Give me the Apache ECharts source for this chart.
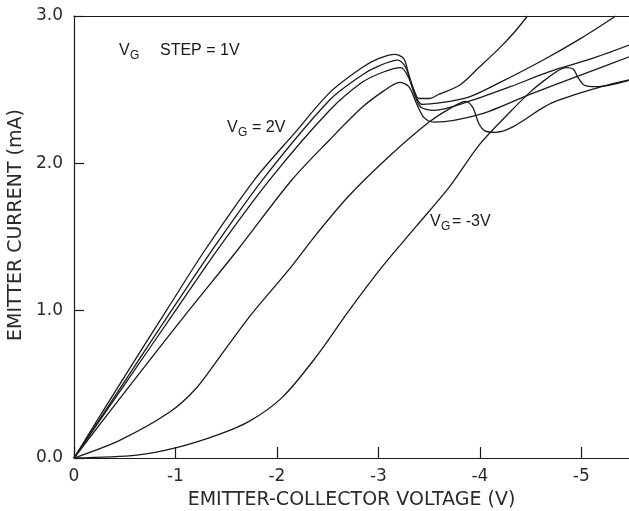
<!DOCTYPE html>
<html>
<head>
<meta charset="utf-8">
<script src="https://cdn.jsdelivr.net/npm/echarts@6/dist/echarts.min.js"></script>
<style>
html,body{margin:0;padding:0;background:#fff;}
#c{width:629px;height:511px;}
</style>
</head>
<body>
<div id="c"></div>
<script>
// Emitter-collector voltage (V) vs emitter current (mA), one curve per gate voltage
const seriesNames = ['VG = 2V', 'VG = 1V', 'VG = 0V', 'VG = -1V', 'VG = -2V', 'VG = -3V'];
const xTicks = [0, -1, -2, -3, -4, -5];
const yTicks = [0, 1, 2, 3];

const vgP2 = [[0,0],[-0.45,0.5],[-0.91,1.0],[-1.29,1.41],[-1.78,1.89],[-2.18,2.21],[-2.52,2.48],[-2.84,2.65],[-3.0,2.71],[-3.16,2.74],[-3.25,2.71],[-3.30,2.60],[-3.35,2.50],[-3.40,2.44],[-3.50,2.44],[-3.60,2.47],[-3.80,2.53],[-3.99,2.65],[-4.19,2.78],[-4.34,2.89],[-4.47,3.0]];
const vgP1 = [[0,0],[-0.48,0.5],[-0.96,1.0],[-1.36,1.41],[-1.86,1.89],[-2.52,2.43],[-2.84,2.60],[-3.0,2.66],[-3.19,2.70],[-3.27,2.65],[-3.32,2.55],[-3.37,2.45],[-3.43,2.40],[-3.6,2.41],[-3.89,2.45],[-4.2,2.55],[-4.62,2.70],[-5.0,2.85],[-5.34,3.0]];
const vg0 = [[0,0],[-0.5,0.5],[-1.0,1.0],[-1.41,1.41],[-1.93,1.89],[-2.52,2.36],[-2.84,2.55],[-3.05,2.62],[-3.22,2.65],[-3.30,2.58],[-3.36,2.46],[-3.42,2.38],[-3.55,2.36],[-3.89,2.42],[-4.3,2.52],[-4.68,2.62],[-5.1,2.71],[-5.5,2.81]];
const vgM1 = [[0,0],[-0.56,0.5],[-1.13,1.0],[-1.61,1.41],[-2.15,1.89],[-2.52,2.16],[-2.84,2.38],[-3.05,2.49],[-3.21,2.55],[-3.30,2.52],[-3.38,2.40],[-3.45,2.31],[-3.55,2.28],[-3.99,2.33],[-4.5,2.47],[-5.0,2.60],[-5.5,2.73]];
const vgM2 = [[0,0],[-0.45,0.12],[-0.94,0.31],[-1.2,0.47],[-1.43,0.68],[-1.73,0.96],[-2.12,1.28],[-2.39,1.52],[-2.71,1.78],[-3.11,2.05],[-3.5,2.28],[-3.7,2.37],[-3.86,2.42],[-3.93,2.38],[-3.99,2.27],[-4.05,2.22],[-4.15,2.21],[-4.71,2.41],[-5.2,2.52],[-5.5,2.57]];
const vgM3 = [[0,0],[-0.62,0.02],[-1.01,0.07],[-1.43,0.16],[-1.73,0.25],[-2.05,0.41],[-2.39,0.69],[-2.71,1.0],[-3.04,1.30],[-3.37,1.57],[-3.70,1.84],[-4.0,2.13],[-4.3,2.35],[-4.49,2.48],[-4.65,2.57],[-4.85,2.65],[-4.92,2.64],[-4.97,2.58],[-5.03,2.53],[-5.15,2.52],[-5.5,2.57]];

const allData = [vgP2, vgP1, vg0, vgM1, vgM2, vgM3];

const FONT = 'DejaVu Sans';
const AFONT = 'Liberation Sans';
const INK = '#1a1a1a';
const TXT = '#2a2a2a';
const XMIN = -5.47;

const chart = echarts.init(document.getElementById('c'), null, {renderer: 'canvas'});

function subText(x, y, rest, restX) {
  return [
    {type: 'text', left: x, top: y, style: {text: 'V', font: '16px ' + AFONT, fill: INK}},
    {type: 'text', left: x + 11, top: y + 7, style: {text: 'G', font: '12px ' + AFONT, fill: INK}},
    {type: 'text', left: restX, top: y, style: {text: rest, font: '16px ' + AFONT, fill: INK}}
  ];
}

const option = {
  backgroundColor: '#fff',
  animation: false,
  grid: {left: 74, top: 16, right: 0, height: 442, show: false, containLabel: false, outerBoundsMode: 'none'},
  xAxis: [{
    type: 'value', min: XMIN, max: 0, inverse: true,
    axisLine: {show: true, onZero: false, lineStyle: {color: INK, width: 1.2}},
    axisTick: {show: true, inside: true, length: 11, customValues: xTicks, lineStyle: {color: INK, width: 1.2}},
    axisLabel: {show: true, margin: 10, fontFamily: FONT, fontSize: 17, color: TXT, customValues: xTicks,
      formatter: v => String(v)},
    splitLine: {show: false},
    name: 'EMITTER-COLLECTOR VOLTAGE (V)', nameLocation: 'middle', nameGap: 33,
    nameTextStyle: {fontFamily: FONT, fontSize: 19, color: TXT}
  }, {
    type: 'value', min: XMIN, max: 0, inverse: true, position: 'top',
    axisLine: {show: true, onZero: false, lineStyle: {color: INK, width: 1.2}},
    axisTick: {show: false}, axisLabel: {show: false}, splitLine: {show: false}
  }],
  yAxis: {
    type: 'value', min: 0, max: 3, interval: 1,
    axisLine: {show: true, onZero: false, lineStyle: {color: INK, width: 1.2}},
    axisTick: {show: true, inside: true, length: 10, lineStyle: {color: INK, width: 1.2}},
    axisLabel: {show: true, margin: 11, fontFamily: FONT, fontSize: 17, color: TXT,
      formatter: v => yTicks.indexOf(v) >= 0 ? v.toFixed(1) : ''},
    splitLine: {show: false},
    name: 'EMITTER CURRENT (mA)', nameLocation: 'middle', nameGap: 47, nameRotate: 90,
    nameTextStyle: {fontFamily: FONT, fontSize: 19, color: TXT, padding: [0, 0, 0, 24]}
  },
  series: allData.map((d, i) => ({
    name: seriesNames[i], type: 'line', data: d, showSymbol: false, smooth: 0.3,
    lineStyle: {color: INK, width: 1.3}, clip: true, z: 3
  })),
  graphic: [
    ...subText(119, 43, 'STEP = 1V', 160),
    ...subText(227, 120, '= 2V', 252),
    ...subText(430, 214, '= -3V', 452)
  ]
};
chart.setOption(option);
</script>
</body>
</html>
